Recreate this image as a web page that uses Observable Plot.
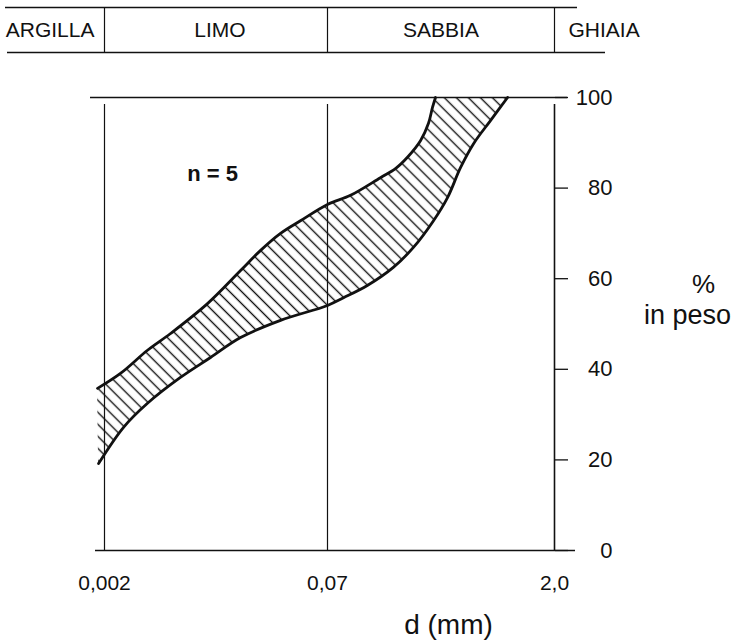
<!DOCTYPE html>
<html>
<head>
<meta charset="utf-8">
<script src="https://cdn.jsdelivr.net/npm/d3@7"></script>
<script src="https://cdn.jsdelivr.net/npm/@observablehq/plot@0.6"></script>
<style>
  html, body { margin: 0; padding: 0; background: #fff; }
  #chart { width: 737px; height: 643px; font-family: "Liberation Sans", Arial, Helvetica, sans-serif; }
  #chart svg { display: block; }
</style>
</head>
<body>
<div id="chart"></div>
<script>
// ---- data ----
const classNames = ["ARGILLA", "LIMO", "SABBIA", "GHIAIA"];
const classLimits = [0.002, 0.07, 2];          // mm, class boundaries
const xTickLabels = ["0,002", "0,07", "2,0"];
const yTicks = [0, 20, 40, 60, 80, 100];
const sampleLabel = "n = 5";

// upper envelope (finer curve) : d (mm) and % in peso
const upperD   = [0.00179, 0.00258, 0.00397, 0.00573, 0.01033, 0.0175, 0.0240, 0.0331, 0.0455, 0.070, 0.0983, 0.153, 0.191, 0.228, 0.277, 0.311, 0.330, 0.345];
const upperPct = [35.8, 39.1, 44.2, 47.9, 54.5, 61.8, 66.2, 70.0, 72.8, 76.4, 78.4, 82.3, 84.3, 86.8, 90.5, 94.3, 97.8, 100];
// lower envelope (coarser curve)
const lowerD   = [0.00182, 0.00271, 0.00397, 0.00671, 0.01084, 0.0175, 0.0331, 0.070, 0.0887, 0.126, 0.185, 0.249, 0.335, 0.412, 0.499, 0.605, 0.777, 1.0];
const lowerPct = [19.2, 27.2, 32.5, 38.2, 42.6, 47.0, 50.8, 54.1, 55.8, 58.5, 62.5, 66.9, 72.8, 77.9, 84.5, 89.8, 94.9, 100];

const envelope = upperD.map((d, i) => ({ux: d, up: upperPct[i], lx: lowerD[i], lp: lowerPct[i]}));
const xTicks = classLimits.map((d, i) => ({d, label: xTickLabels[i]}));

// ---- layout ----
const W = 737;
const bandH = 56;
const mainH = 643 - bandH;
const mL = 104, mR = 183;
const xRange = [104, 327, 554];
const ink = "#111";
const font = "Liberation Sans, Arial, Helvetica, sans-serif";
const xCfg = () => ({type: "log", domain: classLimits, range: xRange, axis: null});

// ---- class band ----
const band = Plot.plot({
  width: W, height: bandH,
  marginTop: 7, marginBottom: 4, marginLeft: mL, marginRight: mR,
  style: {fontFamily: font, background: "white", overflow: "visible"},
  x: xCfg(),
  y: {domain: [0, 1], axis: null},
  marks: [
    Plot.ruleY([1], {stroke: ink, strokeWidth: 1.5, insetLeft: -99, insetRight: -23}),
    Plot.ruleY([0], {stroke: ink, strokeWidth: 1.5, insetLeft: -97, insetRight: -51}),
    Plot.ruleX(classLimits, {y1: 0, y2: 1, stroke: ink, strokeWidth: 1.2}),
    Plot.text([classNames[0]], {x: classLimits[0], y: 0.5, text: d => d, textAnchor: "end", dx: -10, fontSize: 21, fill: ink}),
    Plot.text([classNames[1]], {x: Math.sqrt(classLimits[0] * classLimits[1]), y: 0.5, text: d => d, fontSize: 21, fill: ink, dx: 4}),
    Plot.text([classNames[2]], {x: Math.sqrt(classLimits[1] * classLimits[2]), y: 0.5, text: d => d, fontSize: 21, fill: ink}),
    Plot.text([classNames[3]], {x: classLimits[2], y: 0.5, text: d => d, textAnchor: "start", dx: 14, fontSize: 21, fill: ink})
  ]
});

// ---- main chart ----
const curve = "catmull-rom";
const main = Plot.plot({
  width: W, height: mainH,
  marginTop: 41, marginBottom: mainH - 494, marginLeft: mL, marginRight: mR,
  style: {fontFamily: font, background: "white", overflow: "visible"},
  x: xCfg(),
  y: {domain: [0, 100], axis: null},
  marks: [
    Plot.area(envelope, {x1: "ux", y1: "up", x2: "lx", y2: "lp", curve, fill: "url(#hatch)"}),
    Plot.ruleX(classLimits.slice(0, 2), {y1: 0, y2: 100, stroke: ink, strokeWidth: 1.2, insetBottom: -7}),
    Plot.ruleX(classLimits.slice(2), {y1: 0, y2: 100, stroke: ink, strokeWidth: 1.6, insetBottom: -7}),
    Plot.ruleY([0], {stroke: ink, strokeWidth: 1.7, insetLeft: -9, insetRight: -21}),
    Plot.ruleY([100], {stroke: ink, strokeWidth: 1.7, insetLeft: -14, insetRight: -13}),
    Plot.line(envelope, {x: "ux", y: "up", curve, stroke: ink, strokeWidth: 2.8}),
    Plot.line(envelope, {x: "lx", y: "lp", curve, stroke: ink, strokeWidth: 2.8}),
    Plot.axisY(yTicks, {anchor: "right", tickSize: 13, tickPadding: 45, textAnchor: "end", fontSize: 22, stroke: ink, fill: ink, strokeWidth: 1.3, label: null}),
    Plot.text(xTicks, {x: "d", text: "label", frameAnchor: "bottom", lineAnchor: "middle", dy: 33, fontSize: 21, fill: ink}),
    Plot.text([sampleLabel], {frameAnchor: "top-left", textAnchor: "middle", lineAnchor: "middle", dx: 108, dy: 76, fontSize: 22, fontWeight: "bold", fill: ink}),
    Plot.text(["d (mm)"], {frameAnchor: "bottom", textAnchor: "middle", lineAnchor: "middle", dx: 119, dy: 75, fontSize: 28, fill: ink}),
    Plot.text(["%"], {frameAnchor: "right", textAnchor: "middle", lineAnchor: "middle", dx: 149, dy: -39, fontSize: 26, fill: ink}),
    Plot.text(["in peso"], {frameAnchor: "right", textAnchor: "middle", lineAnchor: "middle", dx: 133, dy: -9, fontSize: 27, fill: ink})
  ]
});

// hatch pattern
const defs = d3.select(main).insert("defs", ":first-child");
const pat = defs.append("pattern")
  .attr("id", "hatch")
  .attr("patternUnits", "userSpaceOnUse")
  .attr("width", 8.5).attr("height", 8.5)
  .attr("patternTransform", "rotate(45)");
pat.append("line")
  .attr("x1", -1).attr("y1", 4.25).attr("x2", 9.5).attr("y2", 4.25)
  .attr("stroke", ink).attr("stroke-width", 1.4);

const root = document.getElementById("chart");
root.appendChild(band);
root.appendChild(main);
</script>
</body>
</html>
